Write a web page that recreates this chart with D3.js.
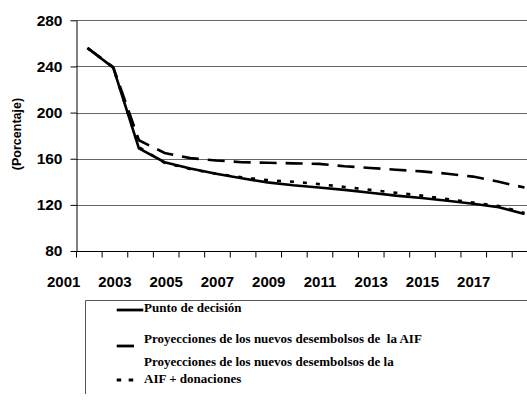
<!DOCTYPE html>
<html lang="es">
<head>
  <meta charset="UTF-8">
  <title>Chart</title>
  <script src="https://d3js.org/d3.v7.min.js"></script>
  <style>
    body { margin: 0; background: #fff; }
    svg { display: block; }
  </style>
</head>
<body>
  <script>
    // data
    let years = d3.range(2002, 2020)
    let puntoDecision = [256, 239, 169, 157, 151.5, 147, 143, 139.5, 137, 135, 133, 130.5, 128, 126, 123.5, 121, 118, 112]
    let aif = [256, 239.5, 176, 165, 160.5, 158.5, 157, 156.5, 156, 155.5, 153.5, 152, 150.5, 149, 147, 144.5, 140, 135]
    let aifDonaciones = [256, 239, 170, 156.5, 151, 147, 144, 141.5, 140, 138, 135.5, 133, 130.5, 128, 125, 122, 119, 113]
    let yTicks = [80, 120, 160, 200, 240, 280]
    let xLabels = [2001, 2003, 2005, 2007, 2009, 2011, 2013, 2015, 2017]
    let legendNames = ['Punto de decisión', 'Proyecciones de los nuevos desembolsos de  la AIF', 'Proyecciones de los nuevos desembolsos de la|AIF + donaciones']

    let W = 527, H = 403
    let svg = d3.select('body').append('svg')
      .attr('width', W)
      .attr('height', H)

    let x = d3.scaleLinear().domain([2002, 2019]).range([87.5, 524.5])
    let y = d3.scaleLinear().domain([80, 280]).range([251, 20.3])
    let left = 76, right = x(2019.5)

    // gridlines
    svg.append('g')
      .selectAll('line')
      .data(yTicks.slice(1))
      .enter().append('line')
      .attr('x1', left).attr('x2', right)
      .attr('y1', d => Math.round(y(d)) + 0.5).attr('y2', d => Math.round(y(d)) + 0.5)
      .attr('stroke', '#666')
      .attr('stroke-width', 1)

    // y axis
    let yAxis = svg.append('g')
      .attr('transform', 'translate(' + (left + 0.5) + ',0)')
      .call(d3.axisLeft(y).tickValues(yTicks).tickSize(6).tickPadding(8).tickSizeOuter(0))
    yAxis.selectAll('text')
      .style('font-family', 'Arial, "Liberation Sans", sans-serif')
      .style('font-weight', 'bold')
      .style('font-size', '15.5px')
      .attr('fill', '#000')

    // x axis ticks between categories
    let tickYears = d3.range(2001.5, 2019, 1)
    let xt = d3.scaleLinear().domain([2001.5, 2018.5]).range([left, 511.7])
    svg.append('g')
      .attr('transform', 'translate(0,' + (Math.round(y(80)) + 0.5) + ')')
      .call(d3.axisBottom(xt).tickValues(tickYears).tickSize(6).tickSizeOuter(0).tickFormat(''))
      .select('.domain').attr('d', 'M' + left + ',0H' + right)

    // x labels
    let xAxis = svg.append('g')
      .attr('transform', 'translate(0,' + y(80) + ')')
      .call(d3.axisBottom(xt).tickValues(xLabels).tickSize(0).tickPadding(25).tickFormat(d3.format('d')))
    xAxis.select('.domain').remove()
    xAxis.selectAll('text')
      .style('font-family', 'Arial, "Liberation Sans", sans-serif')
      .style('font-weight', 'bold')
      .style('font-size', '15px')
      .attr('fill', '#000')

    // y title
    svg.append('text')
      .attr('transform', 'translate(21,134) rotate(-90)')
      .attr('text-anchor', 'middle')
      .style('font-family', 'Arial, "Liberation Sans", sans-serif')
      .style('font-weight', 'bold')
      .style('font-size', '12.5px')
      .text('(Porcentaje)')

    // lines
    let series = [
      { vals: puntoDecision, dash: null },
      { vals: aif, dash: '17,9' },
      { vals: aifDonaciones, dash: '4,9' }
    ]
    let line = d3.line()
      .x((d, i) => x(years[i]))
      .y(d => y(d))

    svg.append('g')
      .selectAll('path')
      .data(series.slice().reverse())
      .enter().append('path')
      .attr('d', d => line(d.vals))
      .attr('fill', 'none')
      .attr('stroke', '#000')
      .attr('stroke-width', 2.6)
      .attr('stroke-dasharray', d => d.dash)

    // legend box
    let lg = svg.append('g')
    lg.append('path')
      .attr('d', 'M85.5,394V300.5H527')
      .attr('fill', 'none')
      .attr('stroke', '#555')
      .attr('stroke-width', 1)

    let serif = '"Times New Roman", "Liberation Serif", serif'
    let legendRows = [
      { sx1: 116.7, sx2: 143.3, sy: 310, dash: null, ty: [312] },
      { sx1: 116.7, sx2: 134, sy: 346, dash: null, ty: [342.5] },
      { sx1: 116.7, sx2: 133.5, sy: 380, dash: '4.5,7.5', ty: [365.5, 382.5] }
    ]
    legendRows.forEach((r, i) => {
      lg.append('line')
        .attr('x1', r.sx1).attr('x2', r.sx2)
        .attr('y1', r.sy).attr('y2', r.sy)
        .attr('stroke', '#000')
        .attr('stroke-width', 2.8)
        .attr('stroke-dasharray', r.dash)
      let parts = legendNames[i].split('|')
      parts.forEach((p, j) => {
        lg.append('text')
          .attr('x', 144)
          .attr('y', r.ty[j])
          .style('white-space', 'pre')
          .style('font-family', serif)
          .style('font-weight', 'bold')
          .style('font-size', '13px')
          .text(p)
      })
    })
  </script>
</body>
</html>
